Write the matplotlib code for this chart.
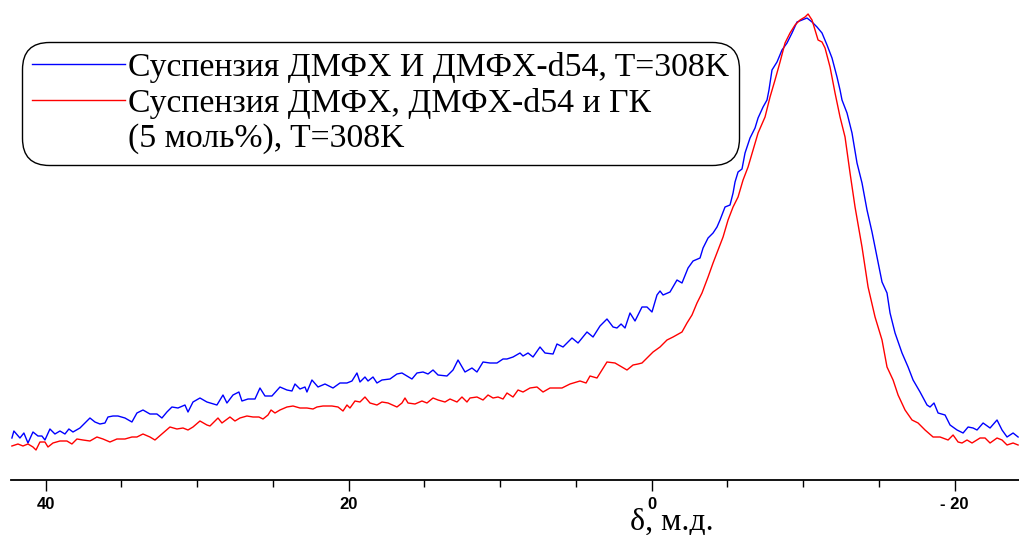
import matplotlib
matplotlib.use("Agg")
import matplotlib.pyplot as plt
from matplotlib.lines import Line2D

blue_ppm = [42.22, 42.09, 41.69, 41.43, 41.16, 40.83, 40.50, 40.24, 40.04, 39.71,
            39.38, 39.05, 38.72, 38.46, 38.19, 37.73, 37.40, 37.07, 36.74, 36.41,
            36.08, 35.88, 35.55, 35.22, 34.76, 34.30, 33.97, 33.57, 33.11, 32.65,
            32.32, 31.99, 31.66, 31.26, 30.80, 30.60, 30.27, 29.81, 29.35, 28.69,
            28.29, 28.03, 27.63, 27.24, 27.04, 26.64, 26.18, 25.85, 25.52, 25.06,
            24.53, 24.07, 23.74, 23.54, 23.21, 22.88, 22.75, 22.42, 22.02, 21.56,
            21.03, 20.57, 20.11, 19.78, 19.45, 19.25, 18.92, 18.72, 18.39, 18.13,
            17.80, 17.27, 16.81, 16.48, 16.15, 15.82, 15.49, 15.09, 14.76, 14.43,
            14.10, 13.51, 13.11, 12.78, 12.32, 11.86, 11.53, 11.13, 10.67, 10.21,
            9.81, 9.55, 9.35, 9.15, 8.69, 8.49, 8.16, 7.83, 7.37, 7.04,
            6.51, 6.25, 5.85, 5.26, 4.86, 4.27, 3.87, 3.41, 2.95, 2.55,
            2.29, 2.02, 1.76, 1.43, 1.10, 0.64, 0.31, -0.02, -0.35, -0.55,
            -0.75, -1.21, -1.67, -2.00, -2.40, -2.73, -3.19, -3.39, -3.72, -4.05,
            -4.31, -4.51, -4.84, -5.17, -5.37, -5.50, -5.70, -5.96, -6.16, -6.49,
            -6.82, -7.02, -7.35, -7.61, -7.74, -7.94, -8.27, -8.60, -8.93, -9.26,
            -9.59, -9.92, -10.25, -10.58, -10.91, -11.24, -11.57, -11.90, -12.23, -12.43,
            -12.56, -12.89, -13.22, -13.55, -13.88, -14.21, -14.54, -14.87, -15.20, -15.53,
            -15.73, -16.06, -16.52, -16.92, -17.25, -17.71, -18.17, -18.37, -18.63, -18.90,
            -19.36, -19.69, -20.15, -20.55, -20.88, -21.21, -21.47, -21.87, -22.33, -22.79,
            -23.12, -23.45, -23.85, -24.18]
blue_int = [45, 52, 45, 50, 40, 51, 47, 47, 43, 54,
            49, 52, 49, 54, 51, 55, 60, 65, 61, 59,
            60, 66, 67, 67, 65, 61, 70, 73, 69, 69,
            65, 71, 76, 75, 78, 71, 81, 85, 81, 78,
            88, 80, 88, 91, 82, 84, 84, 95, 87, 87,
            96, 93, 92, 99, 94, 96, 91, 103, 96, 99,
            95, 100, 100, 102, 110, 101, 106, 102, 106, 100,
            103, 104, 109, 110, 107, 104, 110, 111, 109, 113,
            108, 107, 113, 123, 111, 115, 111, 121, 120, 120,
            124, 124, 125, 126, 130, 127, 130, 126, 136, 130,
            129, 139, 136, 145, 140, 151, 146, 157, 164, 156,
            155, 159, 155, 170, 162, 176, 176, 171, 188, 192,
            188, 191, 203, 200, 215, 222, 225, 235, 245, 250,
            256, 263, 276, 278, 290, 301, 311, 314, 330, 345,
            355, 365, 376, 383, 393, 413, 421, 433, 440, 450,
            461, 463, 465, 461, 456, 450, 438, 425, 406, 393,
            383, 370, 350, 320, 300, 273, 251, 226, 201, 190,
            170, 150, 130, 116, 103, 91, 78, 76, 80, 70,
            68, 58, 53, 50, 56, 55, 53, 60, 55, 63,
            53, 46, 50, 46]

red_ppm = [42.22, 41.82, 41.49, 41.16, 40.83, 40.63, 40.37, 40.04, 39.84, 39.51,
           39.05, 38.59, 38.26, 37.93, 37.53, 37.07, 36.61, 36.21, 35.75, 35.29,
           34.76, 34.30, 33.97, 33.57, 33.11, 32.78, 32.25, 31.79, 31.33, 30.93,
           30.60, 30.27, 29.81, 29.35, 29.15, 28.62, 28.36, 27.83, 27.50, 27.17,
           26.71, 26.31, 25.92, 25.65, 25.32, 25.12, 24.86, 24.53, 24.07, 23.67,
           23.21, 22.75, 22.35, 22.09, 21.69, 21.10, 20.70, 20.37, 20.11, 19.91,
           19.58, 19.25, 18.92, 18.59, 18.13, 17.80, 17.40, 16.81, 16.48, 16.28,
           16.08, 15.62, 15.16, 14.83, 14.43, 14.10, 13.64, 13.31, 12.85, 12.52,
           12.19, 11.99, 11.53, 11.13, 10.80, 10.47, 10.14, 9.81, 9.55, 9.15,
           8.82, 8.49, 8.03, 7.57, 7.17, 6.71, 5.92, 5.39, 4.73, 4.33,
           4.07, 3.61, 2.95, 2.42, 1.63, 1.23, 0.90, 0.64, -0.09, -0.55,
           -0.75, -1.01, -1.41, -2.00, -2.33, -2.66, -2.99, -3.32, -3.72, -4.05,
           -4.38, -4.71, -5.04, -5.37, -5.70, -6.03, -6.36, -6.69, -7.02, -7.48,
           -7.81, -8.14, -8.47, -8.80, -9.13, -9.46, -9.79, -10.12, -10.32, -10.58,
           -10.78, -10.98, -11.24, -11.44, -11.77, -12.10, -12.43, -12.76, -13.09, -13.42,
           -13.88, -14.28, -14.74, -15.20, -15.53, -15.93, -16.26, -16.72, -17.18, -17.58,
           -18.04, -18.57, -19.03, -19.56, -19.89, -20.22, -20.48, -20.81, -21.14, -21.67,
           -22.00, -22.33, -22.79, -23.12, -23.45, -23.85, -24.18]
red_int = [37, 39, 37, 39, 36, 33, 41, 41, 36, 40,
           42, 42, 39, 44, 43, 42, 46, 44, 41, 44,
           44, 46, 46, 49, 46, 43, 50, 56, 54, 55,
           53, 56, 62, 58, 57, 65, 60, 66, 62, 65,
           67, 66, 66, 64, 68, 73, 70, 73, 76, 77,
           75, 75, 74, 76, 77, 77, 76, 72, 78, 75,
           82, 81, 86, 80, 78, 81, 80, 76, 80, 85,
           80, 79, 82, 80, 85, 83, 81, 84, 81, 86,
           81, 85, 86, 83, 88, 85, 86, 84, 90, 86,
           93, 91, 95, 96, 91, 95, 95, 99, 102, 100,
           107, 105, 121, 120, 113, 118, 119, 120, 131, 136,
           139, 143, 146, 151, 160, 168, 180, 190, 206, 220,
           233, 246, 263, 276, 286, 303, 316, 333, 350, 366,
           386, 403, 421, 440, 450, 458, 463, 466, 469, 463,
           453, 443, 441, 435, 416, 390, 366, 346, 310, 276,
           236, 196, 166, 143, 116, 103, 88, 73, 63, 60,
           53, 46, 46, 43, 48, 41, 40, 43, 40, 45,
           45, 40, 45, 43, 38, 40, 38]

major_ticks = [40, 20, 0, -20]
major_labels = ["40", "20", "0", "- 20"]
minor_ticks = [35, 30, 25, 15, 10, 5, -5, -10, -15]

label_blue = "Суспензия ДМФХ И ДМФХ-d54, T=308K"
label_red = "Суспензия ДМФХ, ДМФХ-d54 и ГК"
label_red2 = "(5 моль%), T=308K"

fig = plt.figure(figsize=(10.19, 5.35), dpi=100)
ax = fig.add_axes([11 / 1019, 55 / 535, 1008 / 1019, 480 / 535])

ax.plot(blue_ppm, blue_int, color="#0000ff", lw=1.0)
ax.plot(red_ppm, red_int, color="#ff0000", lw=1.0)

ax.set_xlim(42.28, -24.24)
ax.set_ylim(3, 483)

for s in ["top", "left", "right"]:
    ax.spines[s].set_visible(False)
ax.spines["bottom"].set_linewidth(1.3)
ax.set_yticks([])

ax.set_xticks(major_ticks)
ax.set_xticklabels(major_labels, fontfamily="Liberation Sans", fontweight="bold", fontsize=12)
ax.set_xticks(minor_ticks, minor=True)
ax.tick_params(axis="x", which="major", length=8, width=1.0, pad=4, direction="out")
ax.tick_params(axis="x", which="minor", length=5, width=1.0, direction="out")

ax.set_xlabel("δ, м.д.", fontfamily="Liberation Serif", fontsize=23)
ax.xaxis.set_label_coords((672 - 11) / 1008, -0.058)

handles = [Line2D([], [], color="#0000ff", lw=1.0),
           Line2D([], [], color="#ff0000", lw=1.0),
           Line2D([], [], color="none")]
leg = fig.legend(handles, [label_blue, label_red, label_red2],
                 loc="upper left", bbox_to_anchor=(22 / 1019, 1 - 42 / 535),
                 borderaxespad=0, frameon=True, fancybox=True,
                 prop={"family": "Liberation Serif", "size": 24.3},
                 handlelength=2.75, handletextpad=0.08, labelspacing=0.14,
                 borderpad=0.3)
frame = leg.get_frame()
frame.set_edgecolor("black")
frame.set_linewidth(1.0)
frame.set_alpha(1)
frame.set_boxstyle("round", pad=0, rounding_size=0.8)

fig.savefig("out.png", dpi=100)
